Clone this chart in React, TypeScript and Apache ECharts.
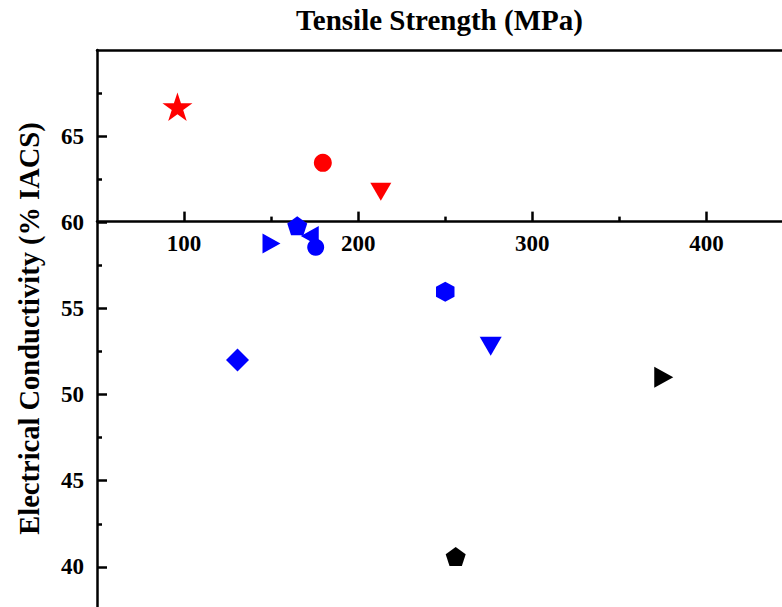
import React, { useEffect, useRef } from "react";
import * as echarts from "echarts";

// ---- data ----
const tensileStrength = [96.2, 179.7, 213, 165, 172.2, 175.6, 150.2, 250, 276.1, 130.7, 375.5, 256];
const conductivity = [66.71, 63.45, 61.77, 59.8, 59.2, 58.55, 58.77, 55.97, 52.8, 52.0, 51.0, 40.6];

// axis tick / label values
const xMajorTicks = [100, 200, 300, 400];
const xMinorTicks = [150, 250, 350];
const yMajorTicks = [40, 45, 50, 55, 60, 65];
const yMinorTicks = [42.5, 47.5, 52.5, 57.5, 62.5, 67.5];

// visible axis extents (the reference is cropped on the right and bottom)
const X_MIN = 50;
const X_MAX = 443.4;
const Y_MIN = 37.67;
const Y_MAX = 70;
const Y_CROSS = 60;

// ---- marker styles (one per point, same order as the data) ----
const STAR = "path://M50,0 L61.23,34.55 L97.55,34.55 L68.16,55.9 L79.39,90.45 L50,69.1 L20.61,90.45 L31.84,55.9 L2.45,34.55 L38.77,34.55 Z";
const PENTAGON = "path://M50,0 L97.55,34.55 L79.39,90.45 L20.61,90.45 L2.45,34.55 Z";
const HEXAGON = "path://M50,0 L93.3,25 L93.3,75 L50,100 L6.7,75 L6.7,25 Z";
const TRI_DOWN = "path://M0,0 L100,0 L50,86.6 Z";
const TRI_RIGHT = "path://M0,0 L86.6,50 L0,100 Z";
const TRI_LEFT = "path://M86.6,0 L0,50 L86.6,100 Z";

const markerStyles: { symbol: string; size: number[]; color: string }[] = [
  { symbol: STAR, size: [30, 28.5], color: "#ff0000" },
  { symbol: "circle", size: [18, 18], color: "#ff0000" },
  { symbol: TRI_DOWN, size: [21, 18], color: "#ff0000" },
  { symbol: PENTAGON, size: [20, 19], color: "#0000ff" },
  { symbol: TRI_LEFT, size: [18, 20], color: "#0000ff" },
  { symbol: "circle", size: [17, 17], color: "#0000ff" },
  { symbol: TRI_RIGHT, size: [18, 20], color: "#0000ff" },
  { symbol: HEXAGON, size: [18.5, 20], color: "#0000ff" },
  { symbol: TRI_DOWN, size: [22, 19], color: "#0000ff" },
  { symbol: "diamond", size: [23, 23], color: "#0000ff" },
  { symbol: TRI_RIGHT, size: [19, 21], color: "#000000" },
  { symbol: PENTAGON, size: [20, 19], color: "#000000" },
];

const FONT = '"Times New Roman", "Liberation Serif", serif';

export default function App() {
  const ref = useRef<HTMLDivElement>(null);

  useEffect(() => {
    if (!ref.current) return;
    const chart = echarts.init(ref.current, null, { renderer: "svg" });

    const W = 782;
    const H = 607;
    const gridLeft = 97;
    const gridTop = 49;
    const gridHeight = H - gridTop;
    const xOffset = -(gridHeight * (Y_CROSS - Y_MIN)) / (Y_MAX - Y_MIN);

    const lineStyle = { color: "#000", width: 2.5 };
    const tickLabel = {
      color: "#000",
      fontFamily: FONT,
      fontWeight: "bold",
      fontSize: 23,
    };

    const series = tensileStrength.map((x, i) => ({
      type: "scatter",
      xAxisIndex: 0,
      yAxisIndex: 0,
      data: [[x, conductivity[i]]],
      symbol: markerStyles[i].symbol,
      symbolSize: markerStyles[i].size,
      itemStyle: { color: markerStyles[i].color, opacity: 1 },
      emphasis: { disabled: true },
      clip: false,
      z: 3,
    }));

    chart.setOption({
      animation: false,
      backgroundColor: "#fff",
      grid: { left: gridLeft, top: gridTop, width: W - gridLeft, height: gridHeight, containLabel: false },
      xAxis: [
        {
          type: "value",
          min: X_MIN,
          max: X_MAX,
          position: "bottom",
          offset: xOffset,
          axisLine: { show: true, onZero: false, lineStyle },
          axisTick: { show: true, inside: true, length: 10, lineStyle, customValues: xMajorTicks },
          axisLabel: { show: true, customValues: xMajorTicks, margin: 10, ...tickLabel },
          splitLine: { show: false },
        },
        {
          type: "value",
          min: X_MIN,
          max: X_MAX,
          position: "bottom",
          offset: xOffset,
          axisLine: { show: false, onZero: false },
          axisTick: { show: true, inside: true, length: 5, lineStyle, customValues: xMinorTicks },
          axisLabel: { show: false },
          splitLine: { show: false },
        },
        {
          type: "value",
          min: X_MIN,
          max: X_MAX,
          position: "top",
          name: "Tensile Strength (MPa)",
          nameLocation: "middle",
          nameGap: 16,
          nameTextStyle: { color: "#000", fontFamily: FONT, fontWeight: "bold", fontSize: 29 },
          axisLine: { show: true, onZero: false, lineStyle },
          axisTick: { show: false },
          axisLabel: { show: false },
          splitLine: { show: false },
        },
      ],
      yAxis: [
        {
          type: "value",
          min: Y_MIN,
          max: Y_MAX,
          position: "left",
          name: "Electrical Conductivity (% IACS)",
          nameLocation: "middle",
          nameGap: 53,
          nameTextStyle: { color: "#000", fontFamily: FONT, fontWeight: "bold", fontSize: 28.5 },
          axisLine: { show: true, onZero: false, lineStyle },
          axisTick: { show: true, inside: true, length: 10, lineStyle, customValues: yMajorTicks },
          axisLabel: { show: true, customValues: yMajorTicks, margin: 13, ...tickLabel },
          splitLine: { show: false },
        },
        {
          type: "value",
          min: Y_MIN,
          max: Y_MAX,
          position: "left",
          axisLine: { show: false, onZero: false },
          axisTick: { show: true, inside: true, length: 5, lineStyle, customValues: yMinorTicks },
          axisLabel: { show: false },
          splitLine: { show: false },
        },
      ],
      series,
    });

    return () => chart.dispose();
  }, []);

  return (
    <div
      ref={ref}
      style={{ position: "fixed", left: 0, top: 0, width: 782, height: 607, background: "#fff" }}
    />
  );
}
